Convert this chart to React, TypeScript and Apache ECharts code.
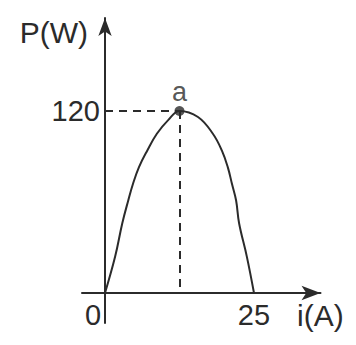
import React, { useEffect, useRef } from "react";
import * as echarts from "echarts";

// Power P(W) against current i(A)
const currentA = [0, 1.7, 2.9, 3.9, 4.7, 5.7, 7.1, 8.7, 10.6, 12.5, 15.6, 18.1, 19.6, 20.6, 21.3, 22.0, 22.5, 23.8, 25];
const powerW = [0, 24, 46, 61, 72, 83, 94, 105, 114, 120, 116, 105, 94, 83, 72, 61, 46, 24, 0];

// Maximum-power point "a"
const peakLabel = "a";
const peakI = 12.5;
const peakP = 120;

const xTicks = [0, 25];
const yTicks = [120];

// Axis extents (the axes run a little past the origin)
const X_MIN = -3.86;
const X_MAX = 36.16;
const Y_MIN = -19.78;
const Y_MAX = 181.3;

const INK = "#2b2b2b";
const FONT = "Liberation Sans";

export default function App() {
  const ref = useRef<HTMLDivElement>(null);

  useEffect(() => {
    if (!ref.current) return;
    const chart = echarts.init(ref.current, undefined, { renderer: "svg" });
    const curve = currentA.map((x, k) => [x, powerW[k]]);

    chart.setOption({
      animation: false,
      backgroundColor: "#ffffff",
      grid: { left: 82, right: 35.5, top: 18, bottom: 22, containLabel: false, outerBoundsMode: "none" },
      xAxis: {
        type: "value",
        min: X_MIN,
        max: X_MAX,
        name: "i(A)",
        nameLocation: "end",
        nameGap: -23.5,
        nameTextStyle: {
          color: INK,
          fontFamily: FONT,
          fontSize: 30,
          align: "left",
          verticalAlign: "top",
          padding: [8, 0, 0, 0],
        },
        axisLine: {
          onZero: true,
          symbol: ["none", "arrow"],
          symbolSize: [11, 19],
          lineStyle: { color: INK, width: 2 },
        },
        axisTick: { show: false },
        splitLine: { show: false },
        axisLabel: {
          customValues: xTicks,
          margin: -23,
          color: INK,
          fontFamily: FONT,
          fontSize: 29,
          formatter: (v: number) => (v === 0 ? "{o|0}" : "{n|" + v + "}"),
          rich: {
            o: { fontSize: 29, fontFamily: FONT, color: INK, padding: [0, 24, 0, 0] },
            n: { fontSize: 29, fontFamily: FONT, color: INK },
          },
        },
      },
      yAxis: {
        type: "value",
        min: Y_MIN,
        max: Y_MAX,
        name: "P(W)",
        nameLocation: "end",
        nameGap: -14,
        nameTextStyle: {
          color: INK,
          fontFamily: FONT,
          fontSize: 30,
          align: "right",
          verticalAlign: "middle",
          padding: [0, 17, 0, 0],
        },
        axisLine: {
          onZero: true,
          symbol: ["none", "arrow"],
          symbolSize: [10, 18],
          lineStyle: { color: INK, width: 2 },
        },
        axisTick: { show: false },
        splitLine: { show: false },
        axisLabel: {
          customValues: yTicks,
          margin: -18,
          color: INK,
          fontFamily: FONT,
          fontSize: 29,
        },
      },
      series: [
        {
          type: "line",
          data: curve,
          smooth: 0.4,
          showSymbol: false,
          lineStyle: { color: INK, width: 2 },
          markLine: {
            silent: true,
            symbol: "none",
            label: { show: false },
            lineStyle: { color: INK, width: 2, type: [8, 6] },
            data: [
              [{ coord: [0, peakP] }, { coord: [peakI, peakP] }],
              [{ coord: [peakI, peakP] }, { coord: [peakI, 0] }],
            ],
          },
        },
        {
          // vertical axis continues a little below the origin
          type: "line",
          data: [
            [0, Y_MIN],
            [0, 0],
          ],
          showSymbol: false,
          silent: true,
          clip: false,
          lineStyle: { color: INK, width: 2 },
        },
        {
          type: "scatter",
          data: [[peakI, peakP]],
          symbol: "circle",
          symbolSize: 10,
          itemStyle: { color: INK },
          label: {
            show: true,
            position: "top",
            distance: 0,
            formatter: peakLabel,
            color: INK,
            fontFamily: FONT,
            fontSize: 27,
          },
        },
      ],
    });

    return () => chart.dispose();
  }, []);

  return (
    <div
      ref={ref}
      style={{ position: "fixed", left: 0, top: 0, width: 356, height: 345, background: "#fff" }}
    />
  );
}
